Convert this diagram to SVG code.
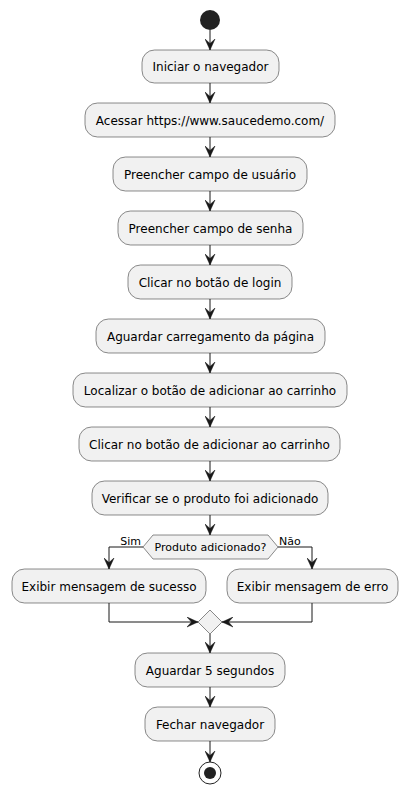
<svg xmlns="http://www.w3.org/2000/svg" width="407" height="793" viewBox="0 0 407 793">
<defs>
<style>
.box{fill:#F1F1F1;stroke:#181818;stroke-width:0.5}
.t{font-family:"DejaVu Sans",sans-serif;font-size:12px;fill:#000;text-anchor:middle}
.s{font-family:"DejaVu Sans",sans-serif;font-size:11px;fill:#000}
.ln{fill:none;stroke:#181818;stroke-width:1}
</style>
<marker id="arr" viewBox="0 0 11 11" refX="11" refY="5.5" markerWidth="11" markerHeight="11" markerUnits="userSpaceOnUse" orient="auto">
<path d="M0,0.5 L11,5.5 L0,10.5 L4.5,5.5 Z" fill="#181818" stroke="#181818" stroke-width="0.5"/>
</marker>
</defs>
<rect width="407" height="793" fill="#FFFFFF"/>
<g id="connectors">
<line class="ln" x1="210" y1="30" x2="210" y2="50" marker-end="url(#arr)"/>
<line class="ln" x1="210" y1="83" x2="210" y2="103" marker-end="url(#arr)"/>
<line class="ln" x1="210" y1="137" x2="210" y2="157" marker-end="url(#arr)"/>
<line class="ln" x1="210" y1="191" x2="210" y2="211" marker-end="url(#arr)"/>
<line class="ln" x1="210" y1="245" x2="210" y2="265" marker-end="url(#arr)"/>
<line class="ln" x1="210" y1="299" x2="210" y2="319" marker-end="url(#arr)"/>
<line class="ln" x1="210" y1="353" x2="210" y2="373" marker-end="url(#arr)"/>
<line class="ln" x1="210" y1="407" x2="210" y2="427" marker-end="url(#arr)"/>
<line class="ln" x1="210" y1="461" x2="210" y2="481" marker-end="url(#arr)"/>
<line class="ln" x1="210" y1="515" x2="210" y2="535" marker-end="url(#arr)"/>
<polyline class="ln" points="143,547 109,547 109,569" marker-end="url(#arr)"/>
<polyline class="ln" points="278,547 312,547 312,569" marker-end="url(#arr)"/>
<text class="s" x="141" y="545" text-anchor="end">Sim</text>
<text class="s" x="279" y="545">Não</text>
<polyline class="ln" points="109,603 109,622 198,622" marker-end="url(#arr)"/>
<polyline class="ln" points="312,603 312,622 222,622" marker-end="url(#arr)"/>
<line class="ln" x1="210" y1="634" x2="210" y2="653" marker-end="url(#arr)"/>
<line class="ln" x1="210" y1="687" x2="210" y2="707" marker-end="url(#arr)"/>
<line class="ln" x1="210" y1="741" x2="210" y2="762" marker-end="url(#arr)"/>
</g>
<g id="start"><circle cx="210" cy="20" r="10" fill="#222222"/></g>
<g id="n1"><rect class="box" x="142" y="50" width="137" height="33" rx="12.5"/><text class="t" x="210.5" y="71">Iniciar o navegador</text></g>
<g id="n2"><rect class="box" x="85" y="103" width="250" height="34" rx="12.5"/><text class="t" x="210" y="124.5">Acessar https://www.saucedemo.com/</text></g>
<g id="n3"><rect class="box" x="113" y="157" width="194" height="34" rx="12.5"/><text class="t" x="210" y="178.5">Preencher campo de usuário</text></g>
<g id="n4"><rect class="box" x="118" y="211" width="185" height="34" rx="12.5"/><text class="t" x="210.5" y="232.5">Preencher campo de senha</text></g>
<g id="n5"><rect class="box" x="128" y="265" width="164" height="34" rx="12.5"/><text class="t" x="210" y="286.5">Clicar no botão de login</text></g>
<g id="n6"><rect class="box" x="96" y="319" width="229" height="34" rx="12.5"/><text class="t" x="210.5" y="340.5">Aguardar carregamento da página</text></g>
<g id="n7"><rect class="box" x="73" y="373" width="274" height="34" rx="12.5"/><text class="t" x="210" y="394.5">Localizar o botão de adicionar ao carrinho</text></g>
<g id="n8"><rect class="box" x="79" y="427" width="261" height="34" rx="12.5"/><text class="t" x="209.5" y="448.5">Clicar no botão de adicionar ao carrinho</text></g>
<g id="n9"><rect class="box" x="92" y="481" width="236" height="34" rx="12.5"/><text class="t" x="210" y="502.5">Verificar se o produto foi adicionado</text></g>
<g id="decision"><polygon class="box" points="143,547 153,535 268,535 278,547 268,559 153,559"/><text class="s" x="210.5" y="551" text-anchor="middle">Produto adicionado?</text></g>
<g id="n10"><rect class="box" x="12" y="569" width="194" height="34" rx="12.5"/><text class="t" x="109" y="590.5">Exibir mensagem de sucesso</text></g>
<g id="n11"><rect class="box" x="227" y="569" width="171" height="34" rx="12.5"/><text class="t" x="312.5" y="590.5">Exibir mensagem de erro</text></g>
<g id="merge"><polygon class="box" points="210,610 222,622 210,634 198,622"/></g>
<g id="n12"><rect class="box" x="135" y="653" width="150" height="34" rx="12.5"/><text class="t" x="210" y="674.5">Aguardar 5 segundos</text></g>
<g id="n13"><rect class="box" x="145" y="707" width="130" height="34" rx="12.5"/><text class="t" x="210" y="728.5">Fechar navegador</text></g>
<g id="end"><circle cx="210" cy="773" r="11" fill="#FFFFFF" stroke="#222222" stroke-width="1"/><circle cx="210" cy="773" r="6" fill="#222222"/></g>
</svg>
